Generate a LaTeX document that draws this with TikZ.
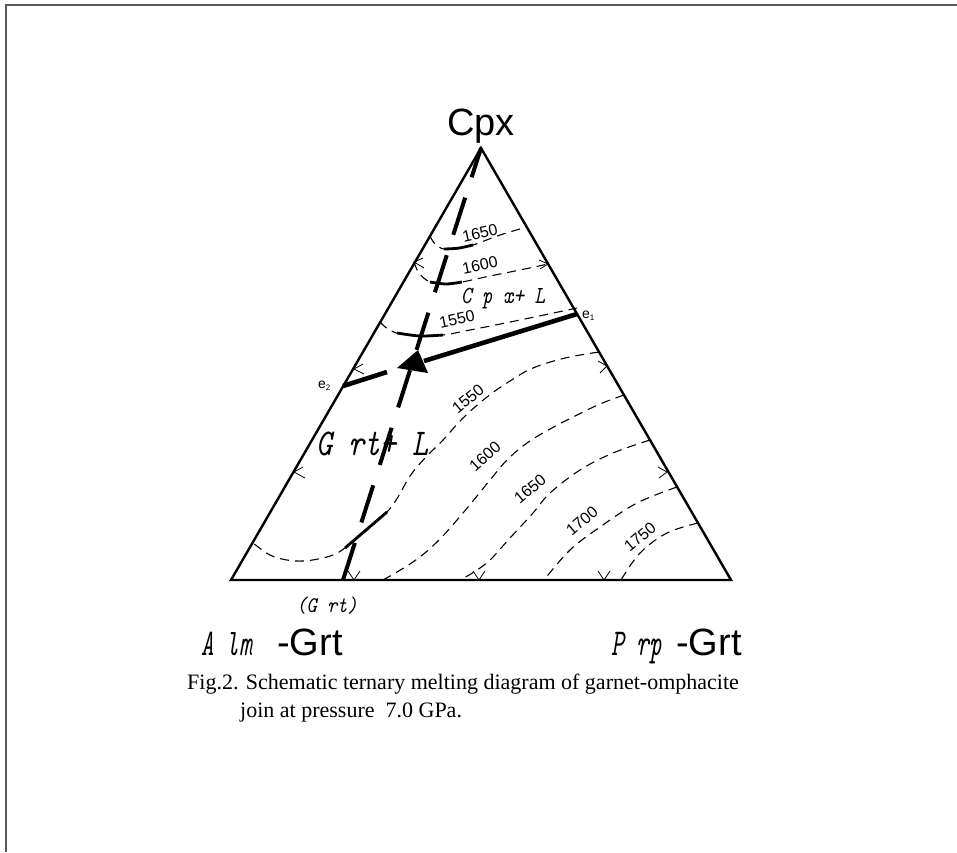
\documentclass[tikz,border=0pt]{standalone}
\usepackage{graphicx}
\usepackage{fontspec}
\setmainfont{Liberation Serif}
\newfontfamily\arialf{Liberation Sans}
\newfontfamily\monof{Latin Modern Mono}
\newcommand\monotxt[3]{{\monof\itshape\fontsize{#1}{#1}\selectfont\scalebox{1}[#2]{#3}}}
\begin{document}
\begin{tikzpicture}[x=1pt,y=-1pt,
  tri/.style={line width=2.4pt,line join=miter},
  iso/.style={line width=1.1pt,dash pattern=on 9pt off 6pt},
  isostable/.style={line width=2.8pt},
  cotectic/.style={line width=4.6pt},
  joinline/.style={line width=4pt,dash pattern=on 39pt off 21.4pt},
  tickm/.style={line width=0.8pt},
  tlab/.style={font=\arialf\fontsize{16}{16}\selectfont,inner sep=0pt},
  big/.style={font=\arialf\fontsize{38}{38}\selectfont,inner sep=0pt},
  captext/.style={font=\fontsize{22}{22}\selectfont,inner sep=0pt,anchor=base west},
]
\useasboundingbox (0,0) rectangle (957,852);
% page frame
\draw[black!65,line width=1.6pt] (957,5) -- (6,5) -- (6,852);

% vertices
\coordinate (Alm) at (231,580);
\coordinate (Prp) at (731,580);
\coordinate (Cpx) at (481,148);
\coordinate (G) at (343,580);
\coordinate (e1) at (577,314);
\coordinate (e2) at (343,386);
\coordinate (tip) at (397,368);
\coordinate (aback) at (424,361);
\coordinate (lseg) at (387,372);

% isotherms, Cpx field
\draw[iso] plot[smooth,tension=0.6] coordinates {(430,236) (435,244) (444,249) (458,248) (473,245) (500,235) (527,227)};
\draw[isostable] plot[smooth] coordinates {(444,249) (458,248.2) (473,245)};
\draw[iso] plot[smooth,tension=0.6] coordinates {(414,262) (419,273) (430,282) (446,284) (462,282) (490,276) (520,270) (548,264)};
\draw[isostable] plot[smooth] coordinates {(430,282) (446,284) (462,282)};
\draw[iso] plot[smooth,tension=0.6] coordinates {(380,322) (388,329) (400,334) (420,336) (443,335) (470,330) (520,320) (577,308)};
\draw[isostable] plot[smooth] coordinates {(397,333) (420,336) (443,335)};

% isotherms, Grt field
\draw[iso] plot[smooth,tension=0.6] coordinates {(599,352) (565,358) (533,368) (510,381) (487,397) (463,418) (443,440) (425,458) (410,476) (398,497) (387,512) (366,531) (345,548) (333,555) (318,559) (303,561) (287,560) (270,555) (253,543)};
\draw[isostable] (387,512) -- (345,548);
\draw[iso] plot[smooth,tension=0.6] coordinates {(624,395) (600,404) (573,417) (550,429) (527,443) (507,460) (490,480) (463,513) (437,542) (413,562) (383,580)};
\draw[iso] plot[smooth,tension=0.6] coordinates {(650,440) (613,453) (580,470) (550,493) (533,513) (510,538) (490,560) (474,572) (460,580)};
\draw[iso] plot[smooth,tension=0.6] coordinates {(677,487) (637,503) (600,527) (570,550) (544,580)};
\draw[iso] plot[smooth,tension=0.6] coordinates {(698,523) (667,533) (640,553) (621,580)};

% edge arrow marks
\draw[tickm] (539,260) -- (548,264) -- (540,269);
\draw[tickm] (423,258) -- (414,262) -- (424,268);
\draw[tickm] (598,361) -- (607,366) -- (600,373);
\draw[tickm] (658,467) -- (667,472) -- (659,478);
\draw[tickm] (363,364) -- (354,369) -- (364,374);
\draw[tickm] (303,467) -- (294,472) -- (305,478);
\draw[tickm] (348,571) -- (354,580) -- (360,571);
\draw[tickm] (473,571) -- (479,580) -- (485,571);
\draw[tickm] (598,571) -- (604,580) -- (610,571);

% triangle
\draw[tri] (Alm) -- (Prp) -- (Cpx) -- cycle;

% join Cpx - (Grt)
\draw[joinline] (G) -- (Cpx);

% cotectic e1 -> e2 with arrow
\draw[cotectic] (e1) -- (aback);
\fill (tip) -- (418,350) -- (428,373) -- cycle;
\draw[cotectic] (lseg) -- (e2);

% temperature labels
\node[tlab,rotate=13] (t1650a) at (480,233) {1650};
\node[tlab,rotate=12] (t1600a) at (480,265) {1600};
\node[tlab,rotate=12] (t1550a) at (457,319) {1550};
\node[tlab,rotate=40] (t1550b) at (468,399) {1550};
\node[tlab,rotate=42] (t1600b) at (485,456) {1600};
\node[tlab,rotate=40] (t1650b) at (530,489) {1650};
\node[tlab,rotate=40] (t1700b) at (582,521) {1700};
\node[tlab,rotate=40] (t1750b) at (640,537) {1750};

% eutectic labels
\node[font=\arialf\fontsize{14}{14}\selectfont,inner sep=0pt,anchor=base west] (le1) at (582,318) {e\raisebox{-2pt}{\fontsize{8}{8}\selectfont 1}};
\node[font=\arialf\fontsize{14}{14}\selectfont,inner sep=0pt,anchor=base west] (le2) at (318,388) {e\raisebox{-2pt}{\fontsize{8}{8}\selectfont 2}};

% field labels
\node[inner sep=0pt,anchor=base west] (fcpx) at (461,303) {\monotxt{20}{1.23}{C p x+ L}};
\node[inner sep=0pt,anchor=base west] (fgrt) at (316,455) {\monotxt{30.5}{1.24}{G rt+ L}};
\node[inner sep=0pt] (grtfoot) at (327,606) {\monotxt{19.4}{1.15}{(G rt)}};

% vertex labels
\node[big,anchor=base] (lcpx) at (481,135) {Cpx};
\node[inner sep=0pt,anchor=base west] (lalm) at (201,655) {\monotxt{24}{1.57}{A lm}};
\node[big,anchor=base west] (lalmg) at (277,655) {-Grt};
\node[inner sep=0pt,anchor=base west] (lprp) at (611,655) {\monotxt{24.5}{1.55}{P rp}};
\node[big,anchor=base west] (lprpg) at (676,655) {-Grt};

% caption
\node[captext] (cap1) at (187,689) {Fig.2. Schematic ternary melting diagram of garnet-omphacite};
\node[captext] (cap2) at (240,717) {join at pressure\ \ 7.0 GPa.};
\end{tikzpicture}
\end{document}
